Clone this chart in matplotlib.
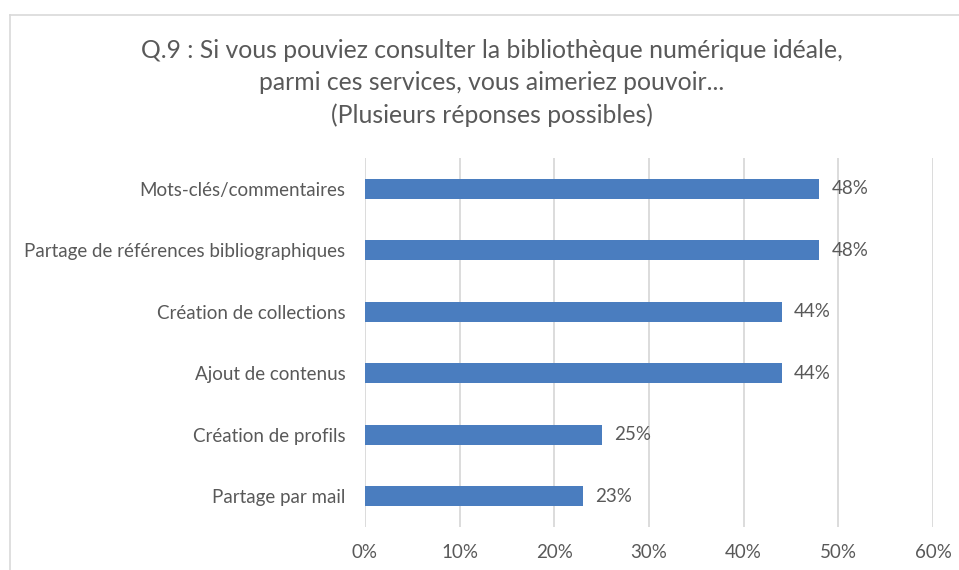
import matplotlib.pyplot as plt
from matplotlib.lines import Line2D

# survey answers, top to bottom
services = ['Mots-clés/commentaires',
            'Partage de références bibliographiques',
            'Création de collections',
            'Ajout de contenus',
            'Création de profils',
            'Partage par mail']
percents = [48, 48, 44, 44, 25, 23]
xticks = [0, 10, 20, 30, 40, 50, 60]

title = ('Q.9 : Si vous pouviez consulter la bibliothèque numérique idéale,\n'
         'parmi ces services, vous aimeriez pouvoir...\n'
         '(Plusieurs réponses possibles)')

plt.rcParams['font.family'] = ['Lato', 'DejaVu Sans']
txt_col = '#595959'
bar_col = '#4A7DBF'

fig = plt.figure(figsize=(9.59, 5.7), dpi=100)
ax = fig.add_axes([365/959, 1-527/570, (933-365)/959, (527-158)/570])

ypos = list(range(len(services)))
ax.barh(ypos, percents, height=0.33, color=bar_col, zorder=3)
for y, v in zip(ypos, percents):
    ax.text(v + 1.3, y, f'{v}%', va='center', ha='left',
            fontsize=13.5, color=txt_col)

ax.set_xlim(0, 60)
ax.set_ylim(len(services) - 0.5, -0.5)
ax.set_yticks(ypos)
ax.set_yticklabels(services)
ax.set_xticks(xticks)
ax.set_xticklabels([f'{t}%' for t in xticks])
ax.tick_params(axis='both', length=0, labelsize=13.5, labelcolor=txt_col)
ax.tick_params(axis='y', pad=14)
ax.tick_params(axis='x', pad=12)
ax.grid(axis='x', color='#D9D9D9', linewidth=1.3, zorder=0)
for s in ax.spines.values():
    s.set_visible(False)

fig.text(0.513, 1-83/570, title, ha='center', va='center', fontsize=17.8,
         color=txt_col, linespacing=1.5)

# chart frame
fx, fy = 10/959, 1-15/570
fig.add_artist(Line2D([fx, fx], [0, fy], color='#D9D9D9', lw=1.2,
                      transform=fig.transFigure))
fig.add_artist(Line2D([fx, 1], [fy, fy], color='#D9D9D9', lw=1.2,
                      transform=fig.transFigure))

fig.savefig('out.png', dpi=100)
